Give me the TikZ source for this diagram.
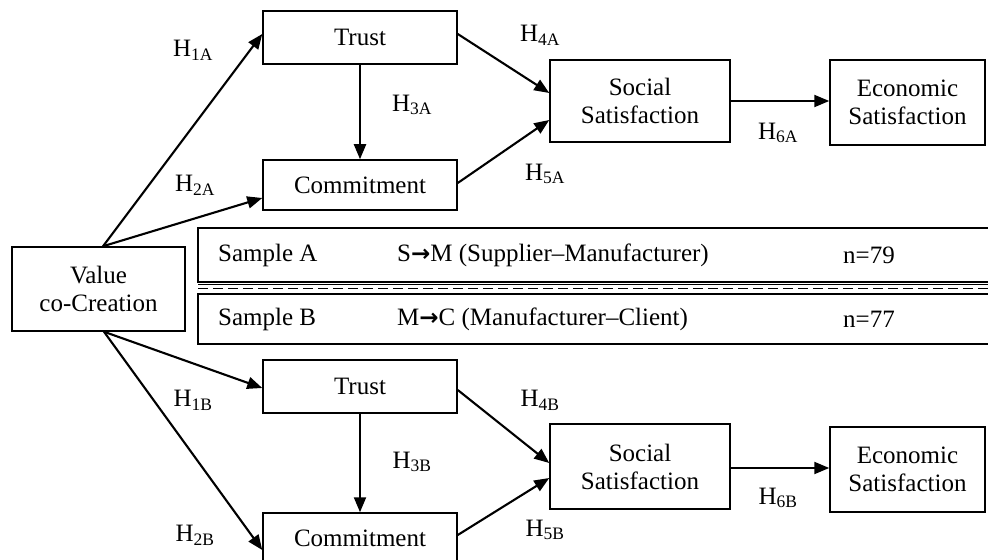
\documentclass[tikz,border=0pt]{standalone}
\usepackage{fontspec}
\setmainfont{Liberation Serif}
\newfontfamily\arrowfont{DejaVu Sans}
\usetikzlibrary{arrows.meta}
\newcommand\mainsz{\fontsize{25bp}{28bp}\selectfont}
\newcommand\Hlab[1]{H\textsubscript{#1}}
\newcommand\warrow{{\arrowfont\bfseries\fontsize{23bp}{25bp}\selectfont →}}
\begin{document}
\begin{tikzpicture}[x=1bp,y=-1bp,
  font=\mainsz,
  box/.style={draw,line width=1.5bp,inner sep=0pt,align=center},
  arr/.style={line width=2.1bp,-{Triangle[length=15bp,width=12bp]}},
  lab/.style={inner sep=0pt},
  txt/.style={inner sep=0pt,anchor=west}]
\useasboundingbox (0,0) rectangle (988,560);
% nodes
\node[box,minimum width=173bp,minimum height=84bp] (V) at (98.5,289) {Value\\co-Creation};
\node[box,minimum width=194bp,minimum height=53bp] (T1) at (360,37.5) {Trust};
\node[box,minimum width=194bp,minimum height=50bp] (C1) at (360,185) {Commitment};
\node[box,minimum width=180bp,minimum height=82bp] (S1) at (640,101) {Social\\Satisfaction};
\node[box,minimum width=155bp,minimum height=85bp] (E1) at (907.5,102.5) {Economic\\Satisfaction};
\node[box,minimum width=194bp,minimum height=53bp] (T2) at (360,386.5) {Trust};
\node[box,minimum width=194bp,minimum height=50bp] (C2) at (360,538) {Commitment};
\node[box,minimum width=180bp,minimum height=85bp] (S2) at (640,466.5) {Social\\Satisfaction};
\node[box,minimum width=155bp,minimum height=85bp] (E2) at (907.5,469.5) {Economic\\Satisfaction};
% sample boxes
\node[box,minimum width=797bp,minimum height=54bp] (SA) at (596.5,255) {};
\node[box,minimum width=797bp,minimum height=50bp] (SB) at (596.5,319) {};
\coordinate (dl1) at (198,284.5);
\coordinate (dl2) at (995,284.5);
\coordinate (ds1) at (198,288.5);
\coordinate (ds2) at (995,288.5);
\draw[line width=1.2bp] (dl1) -- (dl2);
\draw[line width=1.4bp,dash pattern=on 10bp off 5bp] (ds1) -- (ds2);
\node[txt] (sa1) at (218,255) {Sample A};
\node[txt] (sa2) at (397,255) {S\warrow M (Supplier–Manufacturer)};
\node[txt] (sa3) at (843,255) {n=79};
\node[txt] (sb1) at (218,319) {Sample B};
\node[txt] (sb2) at (397,319) {M\warrow C (Manufacturer–Client)};
\node[txt] (sb3) at (843,319) {n=77};
% arrows top
\draw[arr] ([xshift=4.5bp]V.north) -- ([yshift=3.5bp]T1.west);
\draw[arr] ([xshift=4.5bp]V.north) -- ([yshift=-13bp]C1.west);
\draw[arr] (T1.south) -- (C1.north);
\draw[arr] ([yshift=3.5bp]T1.east) -- ([yshift=8bp]S1.west);
\draw[arr] ([yshift=2bp]C1.east) -- ([yshift=-19bp]S1.west);
\draw[arr] (S1.east) -- (S1.east -| E1.west);
% arrows bottom
\draw[arr] ([xshift=5.5bp]V.south) -- ([yshift=-1.5bp]T2.west);
\draw[arr] ([xshift=5.5bp]V.south) -- ([yshift=-12bp]C2.west);
\draw[arr] (T2.south) -- (C2.north);
\draw[arr] ([yshift=-3.5bp]T2.east) -- ([yshift=3.5bp]S2.west);
\draw[arr] ([yshift=3bp]C2.east) -- ([yshift=-11.5bp]S2.west);
\draw[arr] ([yshift=-1.5bp]S2.east) -- ([yshift=-1.5bp]S2.east -| E2.west);
% labels
\node[lab] (h1a) at (193,50) {\Hlab{1A}};
\node[lab] (h2a) at (195,185) {\Hlab{2A}};
\node[lab] (h3a) at (412,105) {\Hlab{3A}};
\node[lab] (h4a) at (540,35) {\Hlab{4A}};
\node[lab] (h5a) at (545,174) {\Hlab{5A}};
\node[lab] (h6a) at (778,133) {\Hlab{6A}};
\node[lab] (h1b) at (193,400) {\Hlab{1B}};
\node[lab] (h2b) at (195,535) {\Hlab{2B}};
\node[lab] (h3b) at (412,462) {\Hlab{3B}};
\node[lab] (h4b) at (540,400) {\Hlab{4B}};
\node[lab] (h5b) at (545,530) {\Hlab{5B}};
\node[lab] (h6b) at (778,498) {\Hlab{6B}};
\end{tikzpicture}
\end{document}
